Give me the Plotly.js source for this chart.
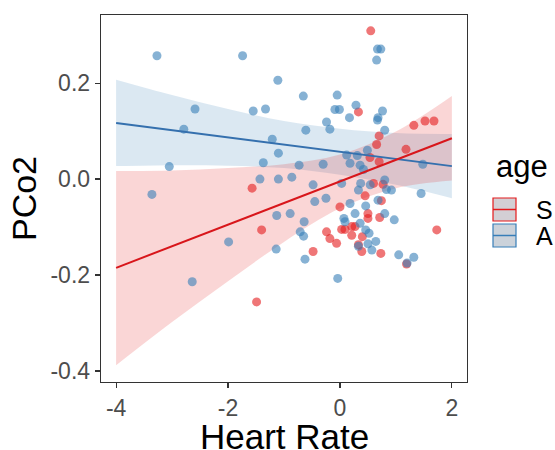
<!DOCTYPE html>
<html>
<head>
<meta charset="utf-8">
<script src="https://cdn.plot.ly/plotly-3.0.1.min.js"></script>
<style>html,body{margin:0;padding:0;background:#fff;}#plot{width:555px;height:450px;}</style>
</head>
<body>
<div id="plot"></div>
<script>
// ---- data ----
var groupNames = ["S", "A"];
var sX = [-1.57,-1.40,-1.49,0.55,0.33,1.32,1.52,1.68,0.70,0.655,1.18,0.536,0.70,0.60,0.45,0.00,0.74,0.50,0.50,0.71,0.21,0.03,0.09,0.27,-0.24,-0.18,-0.06,0.21,1.73,0.40,-0.48,0.33,0.39,0.73,1.19,0.77];
var sY = [-0.019,-0.106,-0.256,0.309,0.140,0.112,0.121,0.121,0.090,0.072,0.062,0.045,0.036,-0.009,-0.035,-0.058,-0.045,-0.072,-0.082,-0.080,-0.099,-0.105,-0.105,-0.099,-0.110,-0.124,-0.134,-0.117,-0.106,-0.120,-0.151,-0.137,-0.151,-0.155,-0.177,-0.011];
var aX = [-3.27,-1.74,-1.11,-2.59,-1.55,-1.33,-2.79,-1.21,-1.10,-1.37,-3.05,-1.43,-1.10,-3.36,-1.13,-1.99,-1.14,-2.64,0.67,0.73,0.655,-0.655,-0.05,-0.09,-0.01,0.286,0.76,0.17,0.67,0.68,-0.24,-0.18,-0.61,0.80,0.49,0.31,0.12,0.18,-0.73,-0.30,1.48,0.42,-0.86,-0.48,0.03,0.37,0.80,0.33,0.83,0.92,1.45,0.36,0.54,-0.45,-0.25,0.18,0.46,0.68,-0.89,0.27,0.80,0.97,-0.64,0.07,0.09,0.36,0.46,0.52,-0.71,-0.65,0.33,-0.625,0.57,1.05,1.32,1.20,-0.04,0.50,0.64];
var aY = [0.257,0.257,0.206,0.146,0.142,0.146,0.104,0.083,0.054,0.034,0.026,0.000,0.000,-0.032,-0.076,-0.131,-0.146,-0.214,0.271,0.271,0.248,0.173,0.175,0.145,0.145,0.154,0.142,0.128,0.123,0.128,0.119,0.104,0.102,0.102,0.060,0.049,0.050,0.033,0.029,0.031,0.031,0.020,0.004,-0.012,-0.009,-0.009,-0.002,-0.023,-0.022,-0.023,-0.030,0.029,-0.012,-0.047,-0.040,-0.051,-0.056,-0.044,-0.072,-0.072,-0.072,-0.085,-0.089,-0.082,-0.089,-0.092,-0.106,-0.113,-0.110,-0.119,-0.140,-0.167,-0.148,-0.158,-0.163,-0.175,-0.207,-0.135,-0.130];
// fitted lines and confidence bands, read at these x positions
var fitX = [-4,-3,-2,-1,0,1,2];
var sFit = [-0.185,-0.140,-0.095,-0.050,-0.005,0.040,0.085];
var sLo  = [-0.388,-0.298,-0.213,-0.131,-0.061,-0.019,-0.003];
var sHi  = [0.017,0.018,0.023,0.031,0.051,0.099,0.173];
var aFit = [0.117,0.102,0.087,0.072,0.057,0.042,0.027];
var aLo  = [0.027,0.029,0.028,0.023,0.009,-0.012,-0.040];
var aHi  = [0.207,0.175,0.146,0.121,0.105,0.096,0.094];
var xTicks = [-4,-2,0,2], xTickText = ["-4","-2","0","2"];
var yTicks = [-0.4,-0.2,0,0.2], yTickText = ["-0.4","-0.2","0.0","0.2"];
var xTitle = "Heart Rate", yTitle = "PCo2", legendTitle = "age";

var RED = "#E41A1C", BLUE = "#377EB8";
var FONT = "Liberation Sans, Arial, sans-serif";

function band(lo, hi, color) {
  return [
    {x: fitX, y: lo, mode: "lines", line: {width: 0, shape: "spline"}, hoverinfo: "skip", showlegend: false},
    {x: fitX, y: hi, mode: "lines", line: {width: 0, shape: "spline"}, fill: "tonexty", fillcolor: color, hoverinfo: "skip", showlegend: false}
  ];
}
var traces = [];
traces = traces.concat(band(aLo, aHi, "rgba(55,126,184,0.18)"));
traces = traces.concat(band(sLo, sHi, "rgba(228,26,28,0.18)"));
traces.push({x: sX, y: sY, mode: "markers", type: "scatter", marker: {color: RED, size: 9, opacity: 0.6}, showlegend: false});
traces.push({x: aX, y: aY, mode: "markers", type: "scatter", marker: {color: BLUE, size: 9, opacity: 0.6}, showlegend: false});
traces.push({x: fitX, y: aFit, mode: "lines", line: {color: "#3570AE", width: 2}, showlegend: false});
traces.push({x: fitX, y: sFit, mode: "lines", line: {color: "#D8161B", width: 2}, showlegend: false});

// pixel layout helpers (plot area 101..467 x 15..382)
var L = 101, R = 467, T = 15, B = 382;
function px(x) { return (x - L) / (R - L); }
function py(y) { return (B - y) / (B - T); }

var shapes = [];
var annotations = [];
var keyCols = [RED, BLUE], keyFill = ["#D3CFD4", "#CBD2DA"], keyTop = [198, 224];
for (var i = 0; i < 2; i++) {
  shapes.push({type: "rect", xref: "paper", yref: "paper", x0: px(493), x1: px(516), y0: py(keyTop[i]), y1: py(keyTop[i] + 23),
    fillcolor: keyFill[i], line: {color: keyCols[i], width: 1.2}});
  shapes.push({type: "line", xref: "paper", yref: "paper", x0: px(493), x1: px(516), y0: py(keyTop[i] + 11.5), y1: py(keyTop[i] + 11.5),
    line: {color: keyCols[i], width: 1.5}});
  annotations.push({xref: "paper", yref: "paper", x: px(534), y: py(keyTop[i] + 12), xanchor: "left", yanchor: "middle",
    text: groupNames[i], showarrow: false, font: {family: FONT, size: 25, color: "#000"}});
}
annotations.push({xref: "paper", yref: "paper", x: px(494), y: py(166), xanchor: "left", yanchor: "middle",
  text: legendTitle, showarrow: false, font: {family: FONT, size: 31, color: "#000"}});
// x-axis title placed by pixel position
annotations.push({xref: "paper", yref: "paper", x: 0.5, y: py(436), xanchor: "center", yanchor: "middle",
  text: xTitle, showarrow: false, font: {family: FONT, size: 35, color: "#000"}});

var layout = {
  width: 555, height: 450,
  margin: {l: L, r: 555 - R, t: T, b: 450 - B},
  paper_bgcolor: "#fff", plot_bgcolor: "#fff",
  showlegend: false,
  font: {family: FONT},
  xaxis: {range: [-4.27, 2.27], showgrid: false, zeroline: false, showline: true, mirror: true, linecolor: "#333", linewidth: 1.3,
    ticks: "outside", ticklen: 5, tickwidth: 1.2, tickcolor: "#333", tickvals: xTicks, ticktext: xTickText,
    tickfont: {family: FONT, size: 23, color: "#4D4D4D"}},
  yaxis: {range: [-0.423, 0.342], showgrid: false, zeroline: false, showline: true, mirror: true, linecolor: "#333", linewidth: 1.3,
    ticks: "outside", ticklen: 5, tickwidth: 1.2, tickcolor: "#333", tickvals: yTicks, ticktext: yTickText,
    tickfont: {family: FONT, size: 23, color: "#4D4D4D"},
    title: {text: yTitle, font: {family: FONT, size: 34, color: "#000"}, standoff: 3}},
  shapes: shapes,
  annotations: annotations
};
Plotly.newPlot("plot", traces, layout, {displayModeBar: false, staticPlot: true});
</script>
</body>
</html>
